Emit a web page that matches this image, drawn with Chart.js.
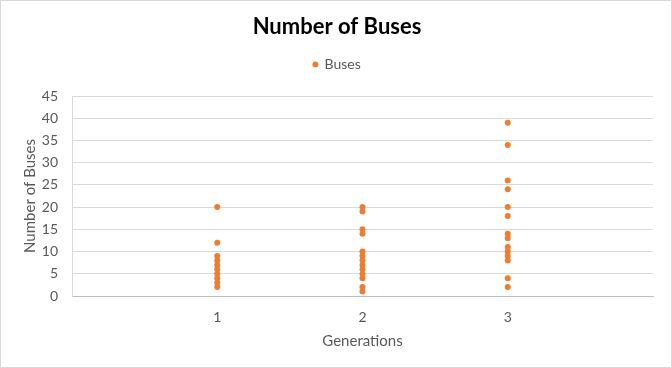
<!DOCTYPE html>
<html>
<head>
<meta charset="utf-8">
<script src="https://cdn.jsdelivr.net/npm/chart.js@4"></script>
<style>
html,body{margin:0;padding:0;background:#fff;}
#wrap{position:relative;width:670px;height:366px;border:1px solid #d9d9d9;}
</style>
</head>
<body>
<div id="wrap"><canvas id="c" width="670" height="366"></canvas></div>
<script>
const generations = [1, 2, 3];
const gen1Buses = [20, 12, 9, 8, 7, 6, 5, 4, 3, 2];
const gen2Buses = [20, 19, 15, 14, 10, 9, 8, 7, 6, 5, 4, 2, 1];
const gen3Buses = [39, 34, 26, 24, 20, 18, 14, 13, 11, 10, 9, 8, 4, 2];
const yTicks = [0, 5, 10, 15, 20, 25, 30, 35, 40, 45];

const groups = [gen1Buses, gen2Buses, gen3Buses];
const points = [];
groups.forEach((arr, i) => arr.forEach(v => points.push({x: generations[i], y: v})));

const FONT = "Lato, 'Open Sans', sans-serif";
new Chart(document.getElementById('c'), {
  type: 'scatter',
  data: {
    datasets: [{
      label: 'Buses',
      data: points,
      backgroundColor: '#ED7D31',
      borderColor: '#ED7D31',
      pointRadius: 3,
      pointHoverRadius: 3,
      borderWidth: 0
    }]
  },
  options: {
    responsive: false,
    animation: false,
    layout: {padding: {left: 20, right: 18, top: 0, bottom: 0}},
    plugins: {
      tooltip: {enabled: false},
      title: {
        display: true,
        text: 'Number of Buses',
        color: '#000',
        font: {family: FONT, size: 22, weight: 'bold'},
        padding: {top: 13, bottom: 9}
      },
      subtitle: {
        display: true,
        text: '',
        weight: 500,
        font: {size: 10, lineHeight: 1.2},
        padding: {top: 2.6, bottom: 0}
      },
      legend: {
        display: true,
        labels: {
          usePointStyle: true,
          pointStyle: 'circle',
          boxWidth: 4.2,
          boxHeight: 4.2,
          color: '#595959',
          font: {family: FONT, size: 14},
          padding: 8
        }
      }
    },
    scales: {
      x: {
        type: 'linear',
        min: 0,
        max: 4,
        afterFit: s => { s.height = 71; },
        ticks: {
          stepSize: 1,
          color: '#595959',
          padding: 13,
          font: {family: FONT, size: 14},
          callback: v => (generations.includes(v) ? String(v) : '')
        },
        grid: {display: false, drawTicks: false},
        border: {display: true, color: '#bfbfbf'},
        title: {display: true, text: 'Generations', color: '#595959', font: {family: FONT, size: 15}, padding: {top: 0, bottom: 17}}
      },
      y: {
        min: 0,
        max: 45,
        afterFit: s => { s.width = 51; },
        afterBuildTicks: s => { s.ticks = yTicks.map(v => ({value: v})); },
        ticks: {color: '#595959', font: {family: FONT, size: 14}, padding: 14},
        grid: {color: '#d9d9d9', drawTicks: false},
        border: {display: true, color: '#d9d9d9'},
        title: {display: true, text: 'Number of Buses', color: '#595959', font: {family: FONT, size: 15}, padding: {top: 0, bottom: 0}}
      }
    }
  }
});
</script>
</body>
</html>
